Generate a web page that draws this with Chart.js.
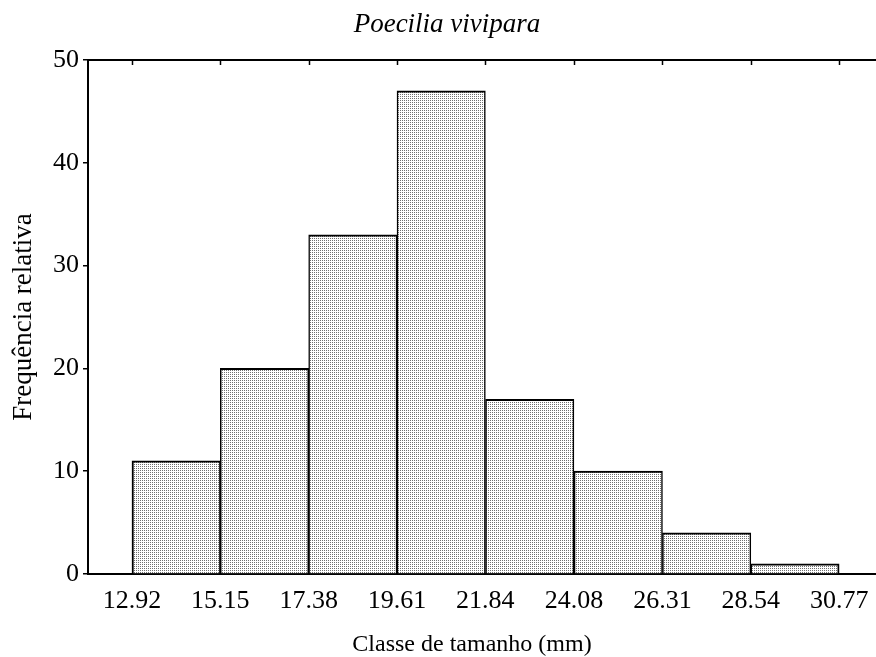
<!DOCTYPE html>
<html>
<head>
<meta charset="utf-8">
<title>Poecilia vivipara</title>
<script src="https://cdn.jsdelivr.net/npm/chart.js@4"></script>
<style>
  html, body { margin: 0; padding: 0; background: #fff; }
  #wrap { width: 876px; height: 657px; position: relative; }
</style>
</head>
<body>
<div id="wrap"><canvas id="hist"></canvas></div>
<script>
/* ── Data ── */
const binEdges = [12.92, 15.15, 17.38, 19.61, 21.84, 24.08, 26.31, 28.54, 30.77];
const counts   = [11, 20, 33, 47, 17, 10, 4, 1];
const yTicks   = [0, 10, 20, 30, 40, 50];

const chartTitle = 'Poecilia vivipara';
const xTitle = 'Classe de tamanho (mm)';
const yTitle = 'Frequência relativa';

/* ── Stippled fill, like the old printed histograms ── */
function makeStipple() {
  const c = document.createElement('canvas');
  c.width = 2; c.height = 2;
  const g = c.getContext('2d');
  g.fillStyle = '#ffffff';
  g.fillRect(0, 0, 2, 2);
  g.fillStyle = '#707070';
  g.fillRect(0, 0, 1, 1);
  return g.createPattern(c, 'repeat');
}

const SERIF = '"Liberation Serif", "DejaVu Serif", serif';

/* ── Top frame line with inward ticks, chart title, x title ── */
const frameAndTitle = {
  id: 'frameAndTitle',
  afterDraw(chart) {
    const { ctx, chartArea } = chart;
    const xs = chart.scales.x;
    ctx.save();
    ctx.strokeStyle = '#000';
    ctx.lineWidth = 2;
    ctx.beginPath();
    ctx.moveTo(chartArea.left, chartArea.top);
    ctx.lineTo(chartArea.right, chartArea.top);
    ctx.stroke();
    ctx.lineWidth = 1.5;
    binEdges.forEach(v => {
      const px = Math.round(xs.getPixelForValue(v)) + 0.5;
      ctx.beginPath();
      ctx.moveTo(px, chartArea.top);
      ctx.lineTo(px, chartArea.top + 5);
      ctx.stroke();
    });
    ctx.fillStyle = '#000';
    ctx.textAlign = 'center';
    ctx.textBaseline = 'alphabetic';
    ctx.font = 'italic 27px ' + SERIF;
    ctx.fillText(chartTitle, 447, 32);
    ctx.font = '24px ' + SERIF;
    ctx.fillText(xTitle, 472, 651);
    ctx.restore();
  }
};

const centers = counts.map((_, i) => (binEdges[i] + binEdges[i + 1]) / 2);
const last = counts.length - 1;

new Chart(document.getElementById('hist'), {
  type: 'bar',
  data: {
    datasets: [{
      data: centers.map((c, i) => ({ x: c, y: counts[i] })),
      backgroundColor: makeStipple(),
      borderColor: '#000',
      // neighbours share an edge, so each side gives part of it
      borderWidth: c => ({ top: 2, bottom: 0, left: c.dataIndex === 0 ? 2 : 1.5, right: c.dataIndex === last ? 2 : 1.5 }),
      borderSkipped: false,
      barPercentage: 1,
      categoryPercentage: 1,
    }]
  },
  options: {
    responsive: true, maintainAspectRatio: false, animation: false,
    layout: { padding: { top: 60, left: 0, right: 0, bottom: 0 } },
    plugins: { legend: { display: false }, tooltip: { enabled: false }, title: { display: false } },
    scales: {
      x: {
        type: 'linear', offset: false,
        min: 11.81, max: 31.70,
        afterBuildTicks: s => { s.ticks = binEdges.map(v => ({ value: v })); },
        afterFit: s => { s.height = 83; s.paddingLeft = 0; s.paddingRight = 0; },
        grid: { display: false, drawTicks: false },
        border: { display: true, color: '#000', width: 2 },
        ticks: {
          color: '#000', padding: 12, autoSkip: false, maxRotation: 0,
          font: { family: SERIF, size: 26 },
          callback: v => Number(v).toFixed(2)
        }
      },
      y: {
        min: 0, max: 50,
        afterBuildTicks: s => { s.ticks = yTicks.map(v => ({ value: v })); },
        afterFit: s => { s.width = 88; },
        grid: { drawOnChartArea: false, drawTicks: true, tickLength: 5, color: '#000', lineWidth: 1.5 },
        border: { display: true, color: '#000', width: 2 },
        ticks: { color: '#000', padding: 4, font: { family: SERIF, size: 26 } },
        title: {
          display: true, text: yTitle, color: '#000',
          font: { family: SERIF, size: 27, lineHeight: 1 },
          padding: { top: 10, bottom: 0 }
        }
      }
    }
  },
  plugins: [frameAndTitle]
});
</script>
</body>
</html>
